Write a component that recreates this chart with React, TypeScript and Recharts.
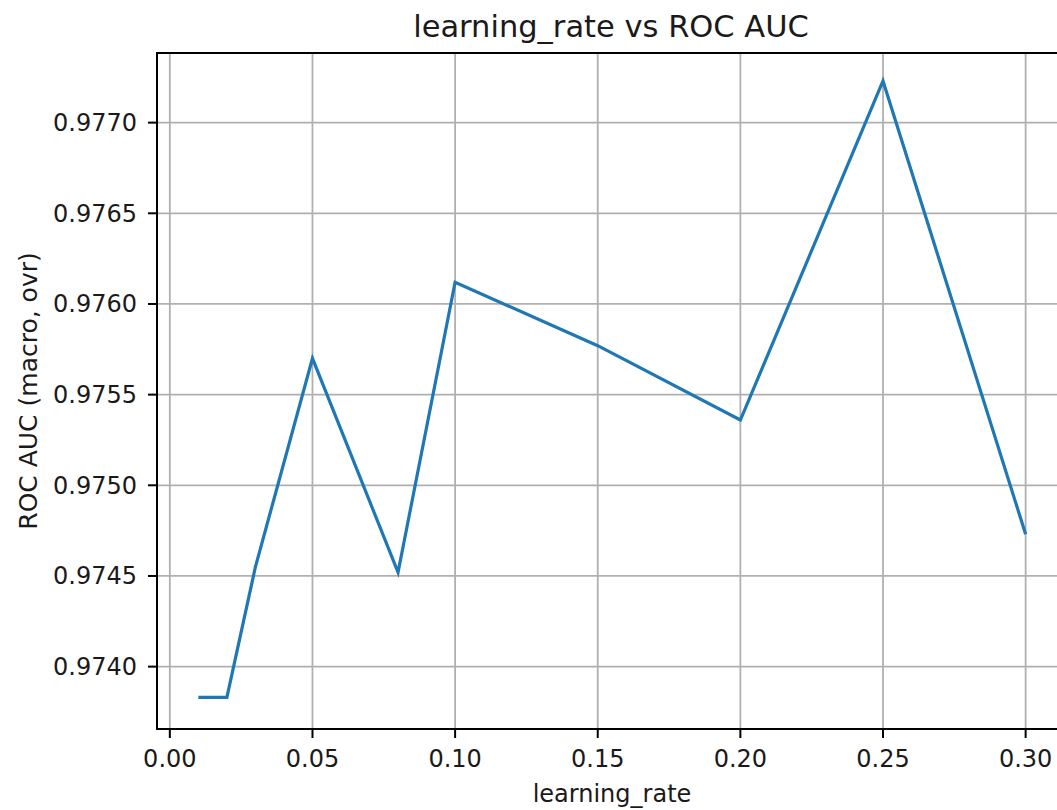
import React from 'react';
import { LineChart, Line, XAxis, YAxis, CartesianGrid, ReferenceArea } from 'recharts';

// learning rate sweep and the ROC AUC (macro, ovr) it produced
const learningRates = [0.01, 0.02, 0.03, 0.05, 0.08, 0.1, 0.15, 0.2, 0.25, 0.3];
const rocAuc = [0.97383, 0.97383, 0.97455, 0.9757, 0.97452, 0.97612, 0.97577, 0.97536, 0.97723, 0.97473];

const xTicks = [0, 0.05, 0.1, 0.15, 0.2, 0.25, 0.3];
const yTicks = [0.974, 0.9745, 0.975, 0.9755, 0.976, 0.9765, 0.977];

// axis limits with matplotlib-like padding around the data
const xDomain: [number, number] = [-0.0045, 0.3145];
const yDomain: [number, number] = [0.973656, 0.977384];

const data = learningRates.map((lr, i) => ({ lr, auc: rocAuc[i] }));

const FONT = '"DejaVu Sans", sans-serif';
const TEXT = '#1a1a1a';

const XLabel = ({ viewBox }: any) => (
  <text
    x={viewBox.x + viewBox.width / 2}
    y={viewBox.y + 73}
    textAnchor="middle"
    fontFamily={FONT}
    fontSize={24}
    fill={TEXT}
  >
    learning_rate
  </text>
);

const YLabel = ({ viewBox }: any) => {
  const x = viewBox.x + 37;
  const y = viewBox.y + viewBox.height / 2;
  return (
    <text
      x={x}
      y={y}
      transform={`rotate(-90 ${x} ${y})`}
      textAnchor="middle"
      fontFamily={FONT}
      fontSize={25}
      fill={TEXT}
    >
      ROC AUC (macro, ovr)
    </text>
  );
};

export default function App() {
  const tickStyle = { fontFamily: FONT, fontSize: 24, fill: TEXT };

  return (
    <div style={{ position: 'absolute', left: 0, top: 0, width: 1057, height: 810, overflow: 'hidden', background: '#fff' }}>
      <LineChart width={1080} height={810} data={data} margin={{ top: 53, right: 13, bottom: 0, left: 0 }}>
        <CartesianGrid stroke="#b0b0b0" strokeWidth={1.8} />
        <XAxis
          type="number"
          dataKey="lr"
          domain={xDomain}
          ticks={xTicks}
          allowDataOverflow
          height={81}
          axisLine={false}
          tickLine={{ stroke: '#000', strokeWidth: 2 }}
          tickSize={9}
          tickMargin={12}
          tick={tickStyle}
          tickFormatter={(v: number) => v.toFixed(2)}
          label={<XLabel />}
        />
        <YAxis
          type="number"
          domain={yDomain}
          ticks={yTicks}
          allowDataOverflow
          width={157}
          axisLine={false}
          tickLine={{ stroke: '#000', strokeWidth: 2 }}
          tickSize={9}
          tickMargin={11}
          tick={tickStyle}
          tickFormatter={(v: number) => v.toFixed(4)}
          label={<YLabel />}
        />
        <Line
          type="linear"
          dataKey="auc"
          stroke="#1f77b4"
          strokeWidth={3.2}
          dot={false}
          isAnimationActive={false}
        />
        {/* axes frame */}
        <ReferenceArea
          x1={xDomain[0]}
          x2={xDomain[1]}
          y1={yDomain[0]}
          y2={yDomain[1]}
          fill="none"
          fillOpacity={0}
          stroke="#000"
          strokeWidth={2}
          ifOverflow="visible"
        />
      </LineChart>
      <svg width={1057} height={60} style={{ position: 'absolute', left: 0, top: 0, pointerEvents: 'none' }}>
        <text x={611} y={37} textAnchor="middle" fontFamily={FONT} fontSize={30.5} fill={TEXT}>
          learning_rate vs ROC AUC
        </text>
      </svg>
    </div>
  );
}
